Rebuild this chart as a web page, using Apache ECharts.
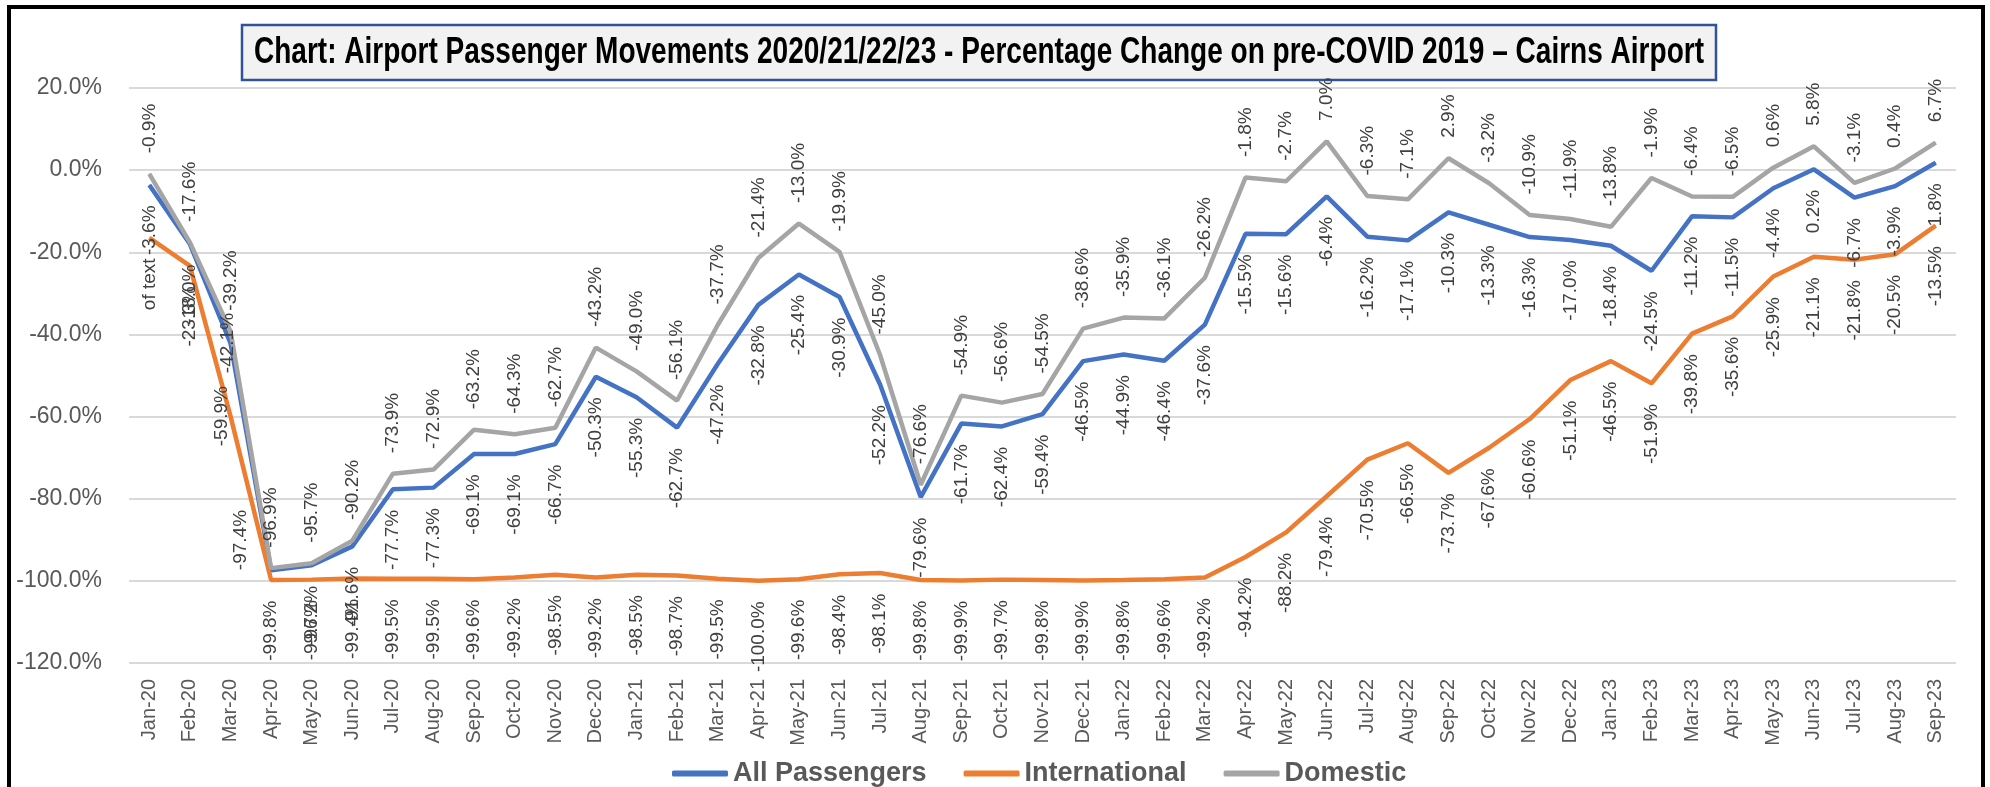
<!DOCTYPE html>
<html>
<head>
<meta charset="utf-8">
<script src="https://cdn.jsdelivr.net/npm/echarts@6/dist/echarts.min.js"></script>
<style>
html, body { margin: 0; padding: 0; background: #fff; }
#main { width: 1990px; height: 787px; }
</style>
</head>
<body>
<div id="main"></div>
<script>
const months = ['Jan-20','Feb-20','Mar-20','Apr-20','May-20','Jun-20','Jul-20','Aug-20','Sep-20','Oct-20','Nov-20','Dec-20',
  'Jan-21','Feb-21','Mar-21','Apr-21','May-21','Jun-21','Jul-21','Aug-21','Sep-21','Oct-21','Nov-21','Dec-21',
  'Jan-22','Feb-22','Mar-22','Apr-22','May-22','Jun-22','Jul-22','Aug-22','Sep-22','Oct-22','Nov-22','Dec-22',
  'Jan-23','Feb-23','Mar-23','Apr-23','May-23','Jun-23','Jul-23','Aug-23','Sep-23'];

const allPassengers = [-3.6,-18.0,-42.1,-97.4,-96.2,-91.6,-77.7,-77.3,-69.1,-69.1,-66.7,-50.3,
  -55.3,-62.7,-47.2,-32.8,-25.4,-30.9,-52.2,-79.6,-61.7,-62.4,-59.4,-46.5,
  -44.9,-46.4,-37.6,-15.5,-15.6,-6.4,-16.2,-17.1,-10.3,-13.3,-16.3,-17.0,
  -18.4,-24.5,-11.2,-11.5,-4.4,0.2,-6.7,-3.9,1.8];

const international = [-16.5,-23.3,-59.9,-99.8,-99.7,-99.4,-99.5,-99.5,-99.6,-99.2,-98.5,-99.2,
  -98.5,-98.7,-99.5,-100.0,-99.6,-98.4,-98.1,-99.8,-99.9,-99.7,-99.8,-99.9,
  -99.8,-99.6,-99.2,-94.2,-88.2,-79.4,-70.5,-66.5,-73.7,-67.6,-60.6,-51.1,
  -46.5,-51.9,-39.8,-35.6,-25.9,-21.1,-21.8,-20.5,-13.5];

const domestic = [-0.9,-17.6,-39.2,-96.9,-95.7,-90.2,-73.9,-72.9,-63.2,-64.3,-62.7,-43.2,
  -49.0,-56.1,-37.7,-21.4,-13.0,-19.9,-45.0,-76.6,-54.9,-56.6,-54.5,-38.6,
  -35.9,-36.1,-26.2,-1.8,-2.7,7.0,-6.3,-7.1,2.9,-3.2,-10.9,-11.9,
  -13.8,-1.9,-6.4,-6.5,0.6,5.8,-3.1,0.4,6.7];

const yTicks = { min: -120, max: 20, step: 20 };
// label text shown in the source instead of the value
const intlLabelText = { 0: 'of text' };

const titleText = 'Chart: Airport Passenger Movements 2020/21/22/23 - Percentage Change on pre-COVID 2019 \u2013 Cairns Airport';
const FONT = '"Liberation Sans", Arial, sans-serif';
const titleFont = 'bold 36px "Liberation Sans", Arial, sans-serif';

// squeeze the title to the width of the box like the condensed original
const ctx = document.createElement('canvas').getContext('2d');
ctx.font = titleFont;
const titleScale = 1450 / ctx.measureText(titleText).width;

const pct = v => v.toFixed(1) + '%';

function labelFor(pos) {
    return {
        show: true,
        position: pos,
        distance: 20,
        rotate: 90,
        align: pos === 'top' ? 'left' : 'right',
        verticalAlign: 'middle',
        fontSize: 19,
        fontFamily: FONT,
        color: '#404040'
    };
}

function makeSeries(name, values, color, pos, special) {
    return {
        name: name,
        type: 'line',
        data: values.map((v, i) => {
            const item = { value: v };
            if (special && special[i]) item.label = special[i];
            return item;
        }),
        symbol: 'circle',
        symbolSize: 1,
        itemStyle: { color: color },
        lineStyle: { color: color, width: 4.5 },
        label: Object.assign(labelFor(pos), {
            formatter: p => (name === 'International' && intlLabelText[p.dataIndex]) ? intlLabelText[p.dataIndex] : pct(p.value)
        }),
        emphasis: { disabled: true }
    };
}

// a few labels that sit beside the point instead of below it
const besidePoint = (dist, align) => Object.assign(labelFor('left'), { align: align, distance: dist });

let myChart = echarts.init(document.getElementById('main'));
let option = {
    animation: false,
    backgroundColor: '#fff',
    graphic: [
        { type: 'rect', shape: { x: 9, y: 7, width: 1974, height: 810 },
          style: { fill: 'none', stroke: '#000', lineWidth: 4 } },
        { type: 'rect', shape: { x: 242, y: 25, width: 1474, height: 55 },
          style: { fill: '#f2f2f2', stroke: '#2f5597', lineWidth: 2.5 } },
        { type: 'text', x: 979, y: 53, scaleX: titleScale,
          style: { text: titleText, font: titleFont, fill: '#000', align: 'center', verticalAlign: 'middle',
                   textAlign: 'center', textVerticalAlign: 'middle' } }
    ],
    legend: {
        left: 667,
        top: 755,
        itemWidth: 56,
        itemHeight: 6,
        itemGap: 37,
        icon: 'roundRect',
        textStyle: { fontSize: 27, fontWeight: 'bold', color: '#595959', fontFamily: FONT },
        data: ['All Passengers', 'International', 'Domestic']
    },
    grid: { left: 129, right: 34, top: 88, bottom: 124, containLabel: false },
    xAxis: {
        type: 'category',
        data: months,
        boundaryGap: true,
        axisLine: { show: false },
        axisTick: { show: false },
        axisLabel: { rotate: 90, margin: 16, fontSize: 20, color: '#595959', fontFamily: FONT, interval: 0 }
    },
    yAxis: {
        type: 'value',
        min: yTicks.min,
        max: yTicks.max,
        interval: yTicks.step,
        axisLine: { show: false },
        axisTick: { show: false },
        axisLabel: { formatter: pct, fontSize: 23, color: '#595959', fontFamily: FONT, margin: 27 },
        splitLine: { lineStyle: { color: '#d9d9d9', width: 2 } }
    },
    series: [
        makeSeries('All Passengers', allPassengers, '#4472c4', 'bottom',
            { 2: besidePoint(2, 'center'), 3: besidePoint(30, 'left') }),
        makeSeries('International', international, '#ed7d31', 'bottom',
            { 2: besidePoint(8, 'center') }),
        makeSeries('Domestic', domestic, '#a5a5a5', 'top')
    ]
};
myChart.setOption(option, true);
</script>
</body>
</html>
